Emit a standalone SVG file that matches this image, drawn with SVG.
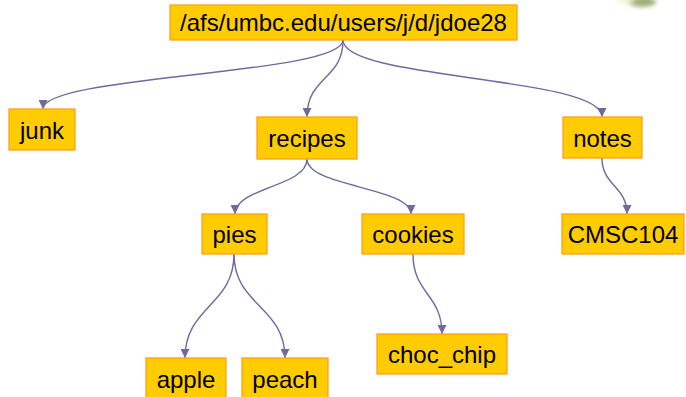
<svg xmlns="http://www.w3.org/2000/svg" width="686" height="397" viewBox="0 0 686 397">
<defs>
<style>
.node rect{fill:#FFCC00;stroke:#FFA020;stroke-width:1.3}
.node text{font-family:"Liberation Sans",Arial,sans-serif;font-size:24px;fill:#000;text-anchor:middle}
.edge{fill:none;stroke:#6B6B9E;stroke-width:1.4;marker-end:url(#arr)}
</style>
<marker id="arr" viewBox="0 0 10 10" refX="10" refY="5" markerWidth="9" markerHeight="9" markerUnits="userSpaceOnUse" orient="auto">
<path d="M0,0 L10,5 L0,10 Z" fill="#6B6B9E"/>
</marker>
<filter id="blur" x="-50%" y="-50%" width="200%" height="200%"><feGaussianBlur stdDeviation="2"/></filter>
</defs>
<rect width="686" height="397" fill="#fff"/>
<g id="clipart" filter="url(#blur)">
<ellipse cx="642" cy="2" rx="14" ry="5" fill="#8a9a55" opacity="0.8"/>
<ellipse cx="625" cy="1" rx="10" ry="3" fill="#f4f0c8" opacity="0.7"/>
</g>
<g id="connectors">
<path class="edge" d="M343,40 C343,75 43,75 43,109"/>
<path class="edge" d="M343,40 C343,80 307,76 307,117"/>
<path class="edge" d="M343,40 C343,80 602,76 602,117"/>
<path class="edge" d="M307,159 C307,187 235,187 235,214"/>
<path class="edge" d="M307,159 C307,187 411,187 411,214"/>
<path class="edge" d="M234,254 C234,306 185,306 185,358"/>
<path class="edge" d="M234,254 C234,306 285,306 285,358"/>
<path class="edge" d="M413,254 C413,294 442,294 442,334"/>
<path class="edge" d="M602,158 C602,186 627,186 627,214"/>
</g>
<g id="root" class="node"><rect x="170" y="5" width="347" height="35"/><text x="343.5" y="31">/afs/umbc.edu/users/j/d/jdoe28</text></g>
<g id="junk" class="node"><rect x="9" y="109" width="66" height="41"/><text x="42" y="139">junk</text></g>
<g id="recipes" class="node"><rect x="257" y="117" width="100" height="42"/><text x="307" y="147">recipes</text></g>
<g id="notes" class="node"><rect x="563" y="117" width="79" height="41"/><text x="602.5" y="146.5">notes</text></g>
<g id="pies" class="node"><rect x="202" y="214" width="65" height="40"/><text x="234.5" y="243">pies</text></g>
<g id="cookies" class="node"><rect x="362" y="214" width="102" height="40"/><text x="413" y="243">cookies</text></g>
<g id="CMSC104" class="node"><rect x="562" y="214" width="122" height="40"/><text x="623" y="243">CMSC104</text></g>
<g id="choc_chip" class="node"><rect x="377" y="334" width="130" height="40"/><text x="442" y="363">choc_chip</text></g>
<g id="apple" class="node"><rect x="146" y="358" width="80" height="45"/><text x="186" y="388">apple</text></g>
<g id="peach" class="node"><rect x="242" y="358" width="86" height="45"/><text x="285" y="388">peach</text></g>
</svg>
